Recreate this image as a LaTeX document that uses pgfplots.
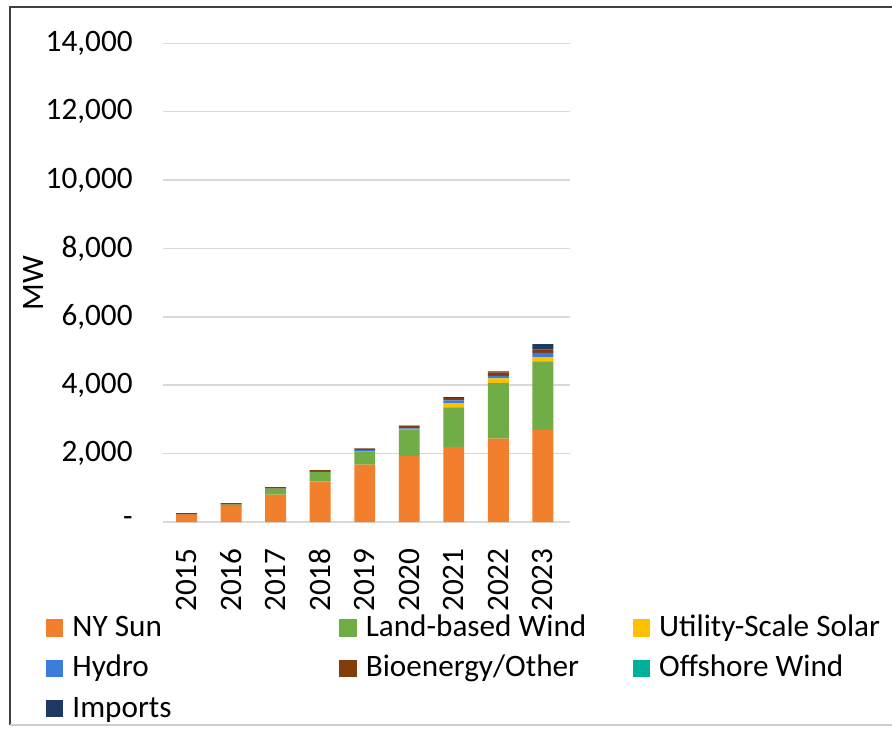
\documentclass[border=0pt]{standalone}
\usepackage{fontspec}
\setmainfont{Carlito}
\usepackage{pgfplots}
\pgfplotsset{compat=1.18}
\definecolor{cSun}{HTML}{F27F2C}
\definecolor{cWind}{HTML}{70AD47}
\definecolor{cSolar}{HTML}{FFC000}
\definecolor{cHydro}{HTML}{3B7DD8}
\definecolor{cBio}{HTML}{843C0C}
\definecolor{cOff}{HTML}{00B09B}
\definecolor{cImp}{HTML}{1F3864}
\definecolor{gridgray}{HTML}{D9D9D9}
\newcommand\LE[1]{\makebox[138pt][l]{\hspace{4.5pt}#1\rule[-5pt]{0pt}{20pt}}}
\newcommand\LF[1]{\hspace{4.5pt}#1\rule[-5pt]{0pt}{20pt}}
\begin{document}
\fontsize{15.6}{18}\selectfont
\begin{tikzpicture}[font=\fontsize{15.6}{18}\selectfont]
\useasboundingbox (0pt,0pt) rectangle (446pt,-364pt);
\draw[color=black!75, line width=0.9pt] (5pt,-362.5pt) -- (5pt,-3.5pt) -- (446pt,-3.5pt);
\draw[color=black!20, line width=0.9pt] (5pt,-362.5pt) -- (446pt,-362.5pt);
\begin{axis}[
  at={(81.5pt,-261pt)}, anchor=south west,
  width=203.5pt, height=239.35pt, scale only axis,
  ybar stacked, bar width=0.47,
  xmin=-0.53, xmax=8.61, ymin=0, ymax=14000,
  xtick={0,1,2,3,4,5,6,7,8},
  xticklabels={2015,2016,2017,2018,2019,2020,2021,2022,2023},
  ytick={0,2000,4000,6000,8000,10000,12000,14000},
  yticklabels={{-},{2,000},{4,000},{6,000},{8,000},{10,000},{12,000},{14,000}},
  scaled y ticks=false,
  /pgf/number format/assume math mode=true,
  ymajorgrids, grid style={color=gridgray, line width=0.75pt},
  axis line style={draw=none}, tick style={draw=none},
  xticklabel style={rotate=90, anchor=east, inner sep=0pt},
  xticklabel shift=13pt,
  yticklabel style={anchor=east, inner sep=0pt},
  yticklabel shift=15pt,
  ylabel={MW},
  ylabel style={at={(axis description cs:-0.3194,0.4993)}, anchor=center, inner sep=0pt},
  legend columns=3,
  legend cell align=left,
  legend image code/.code={\fill[#1] (0pt,0pt) rectangle (8.7pt,8.7pt);},
  legend style={at={(axis description cs:-0.28747,-0.17694)}, anchor=north west,
    draw=none, fill=none, inner sep=0pt, outer sep=0pt, column sep=0pt, row sep=2.8pt,
    cells={anchor=base west}, nodes={inner sep=0pt, outer sep=0pt}},
]
\addplot[fill=cSun, draw=none] coordinates {(0,215) (1,470) (2,800) (3,1185) (4,1680) (5,1930) (6,2190) (7,2440) (8,2695)};
\addplot[fill=cWind, draw=none] coordinates {(0,0) (1,40) (2,175) (3,280) (4,380) (5,765) (6,1160) (7,1630) (8,2005)};
\addplot[fill=cSolar, draw=none] coordinates {(0,0) (1,0) (2,0) (3,0) (4,0) (5,5) (6,125) (7,130) (8,125)};
\addplot[fill=cHydro, draw=none] coordinates {(0,0) (1,0) (2,5) (3,5) (4,40) (5,40) (6,80) (7,77) (8,125)};
\addplot[fill=cBio, draw=none] coordinates {(0,45) (1,45) (2,40) (3,50) (4,50) (5,75) (6,67) (7,100) (8,90)};
\addplot[fill=cOff, draw=none] coordinates {(0,0) (1,0) (2,0) (3,0) (4,0) (5,0) (6,0) (7,0) (8,0)};
\addplot[fill=cImp, draw=none] coordinates {(0,0) (1,0) (2,0) (3,0) (4,0) (5,5) (6,30) (7,30) (8,165)};
\legend{\LE{NY Sun},\LE{Land-based Wind},\LF{Utility-Scale Solar},\LE{Hydro},\LE{Bioenergy/Other},\LF{Offshore Wind},\LE{Imports}}
\end{axis}
\end{tikzpicture}
\end{document}
